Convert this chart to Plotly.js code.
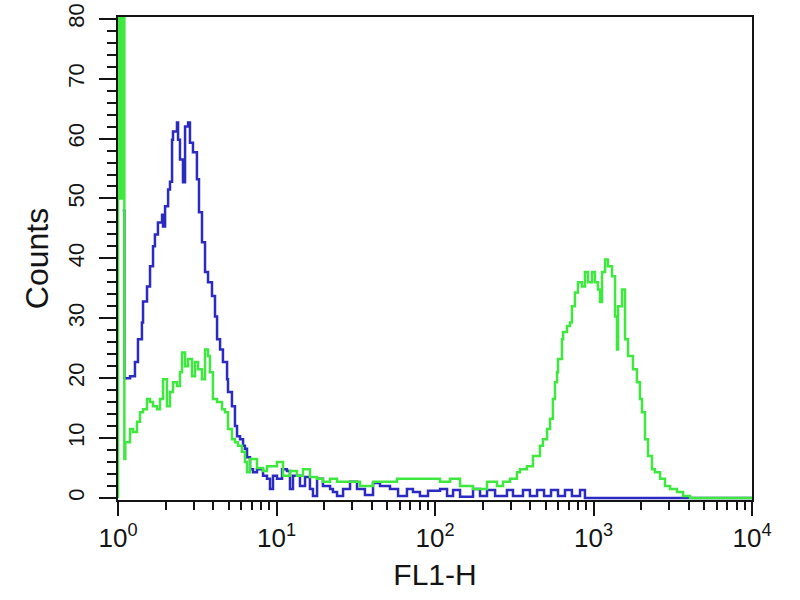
<!DOCTYPE html>
<html>
<head>
<meta charset="utf-8">
<script src="https://cdn.plot.ly/plotly-3.0.1.min.js"></script>
<style>html,body{margin:0;padding:0;background:#fff;}#chart{width:800px;height:600px;}</style>
</head>
<body>
<div id="chart"></div>
<script>
// FL1-H positions (in decades, log10 of FL1-H) and counts
const blueDecades = [0.030,0.040,0.076,0.107,0.126,0.151,0.158,0.183,0.202,0.221,0.233,0.252,0.278,0.284,0.297,0.316,0.328,0.341,0.347,0.372,0.379,0.391,0.410,0.423,0.442,0.454,0.473,0.498,0.511,0.530,0.549,0.568,0.593,0.612,0.625,0.644,0.662,0.688,0.694,0.719,0.738,0.751,0.770,0.789,0.801,0.814,0.833,0.852,0.877,0.915,0.940,0.959,0.978,1.003,1.035,1.066,1.085,1.104,1.148,1.180,1.211,1.230,1.256,1.293,1.338,1.356,1.382,1.420,1.464,1.508,1.558,1.609,1.653,1.716,1.767,1.823,1.861,1.905,1.956,2.032,2.076,2.114,2.158,2.240,2.284,2.328,2.379,2.454,2.492,2.555,2.599,2.644,2.688,2.732,2.776,2.820,2.864,2.915,2.946,4.000];
const blueCounts  = [48,20,20.3,22.7,26.5,29.3,32.8,35.3,38.7,42,44,46,47.3,45.3,48.7,51.5,52.8,59.8,61.2,62.7,59.8,56.5,52.7,62,62.7,59.3,57.7,53.2,47.7,42.7,37.7,36,33.7,30.3,26.5,24.8,22.7,19.8,17.7,15.3,12,10.3,9.8,8.7,8.2,6.8,4.8,4.3,4.8,3.7,3.2,1.5,3.7,3.2,4.8,4.5,1.5,3.7,2,3.5,1.5,0.3,3.2,2,1.5,1,0.3,1.5,2.7,1.5,0.5,2.5,2,1.5,0.3,1.5,1,0.3,1.2,1.5,0.3,1.3,0.2,1.5,0.3,1.3,0.3,1.3,0.3,1.3,0.3,1.3,0.3,1.3,0.3,1.3,0.3,1.3,0,0];

const greenDecades = [0.000,0.000,0.012,0.024,0.040,0.046,0.076,0.095,0.120,0.139,0.158,0.183,0.202,0.221,0.246,0.265,0.284,0.309,0.328,0.347,0.372,0.391,0.404,0.423,0.442,0.467,0.486,0.505,0.530,0.549,0.568,0.580,0.599,0.625,0.656,0.675,0.694,0.719,0.738,0.757,0.782,0.801,0.814,0.833,0.877,0.915,0.940,0.978,1.003,1.041,1.085,1.129,1.167,1.211,1.256,1.293,1.338,1.382,1.445,1.527,1.609,1.672,1.760,1.861,1.950,2.032,2.095,2.158,2.240,2.328,2.391,2.429,2.473,2.517,2.536,2.580,2.618,2.662,2.681,2.707,2.726,2.744,2.757,2.770,2.776,2.801,2.808,2.833,2.852,2.864,2.883,2.902,2.927,2.946,2.965,2.991,3.009,3.028,3.041,3.054,3.073,3.091,3.117,3.136,3.148,3.155,3.180,3.199,3.218,3.249,3.274,3.293,3.306,3.325,3.344,3.369,3.388,3.420,3.451,3.483,3.527,3.565,3.609,4.000];
const greenCounts  = [0,85,50,85,6.5,9.3,11.5,11,12.7,14.3,14.8,16.5,16,15.3,14.8,16.5,19.8,15.3,17.7,19.3,18.7,21,24.3,22,23.2,20.3,22.7,21.5,19.8,24.8,23.7,21,16.5,16,14.8,14.3,11.5,9.8,9.3,8.7,7.7,6,4.3,6.5,5,4.5,5.3,5.3,6,3.7,4.5,3.7,4.8,3.5,3.2,2.7,3.2,2.7,2.7,2,2.7,2.7,3.2,3.2,3.2,2.7,3.2,2,1.5,2.7,2,2.7,3.2,4.3,4.8,5.3,7,8.7,9.8,11.5,13.2,16.5,19.3,21,23.2,26.5,27.7,28.7,29.3,32,34.3,36,35.3,37.7,36,37.7,36,34.8,32.7,37.7,39.8,38.7,37,30.3,24.8,32,34.8,26.5,23.7,21.5,19.3,16.5,14.3,9.8,7,4.8,4.3,3.2,2,1.5,1,0.3,0,0];

const xTickVals = [1, 10, 100, 1000, 10000];
const xTickText = ['10<sup>0</sup>', '10<sup>1</sup>', '10<sup>2</sup>', '10<sup>3</sup>', '10<sup>4</sup>'];
const yTickVals = [0, 10, 20, 30, 40, 50, 60, 70, 80];
const yTickText = ['0', '10', '20', '30', '40', '50', '60', '70', '80'];

const toFL = d => Math.pow(10, d);
const xMinor = [];
for (let dec = 0; dec < 4; dec++) for (let k = 2; k <= 9; k++) xMinor.push(k * Math.pow(10, dec));

const FONT = 'Liberation Sans, Arial, sans-serif';
const INK = '#141414';

const traces = [
  { x: blueDecades.map(toFL), y: blueCounts, type: 'scatter', mode: 'lines',
    line: { shape: 'hv', color: '#2b2bc2', width: 2.5 }, hoverinfo: 'skip' },
  { x: greenDecades.map(toFL), y: greenCounts, type: 'scatter', mode: 'lines',
    line: { shape: 'hv', color: '#3ee83e', width: 2.5 }, hoverinfo: 'skip' }
];

const layout = {
  width: 800, height: 600,
  margin: { l: 118, r: 48, t: 17, b: 100 },
  paper_bgcolor: '#ffffff', plot_bgcolor: '#ffffff',
  showlegend: false,
  font: { family: FONT, color: INK },
  xaxis: {
    type: 'log', range: [0, 4], showgrid: false, zeroline: false,
    showline: true, linecolor: INK, linewidth: 2, mirror: true,
    ticks: 'outside', ticklen: 14, tickwidth: 2, tickcolor: INK,
    tickmode: 'array', tickvals: xTickVals, ticktext: xTickText,
    tickfont: { family: FONT, size: 26, color: INK },
    minor: { tickmode: 'array', tickvals: xMinor, ticks: 'outside', ticklen: 8, tickwidth: 2, tickcolor: INK, showgrid: false },
    title: { text: 'FL1-H', font: { family: FONT, size: 30, color: INK }, standoff: 12 }
  },
  yaxis: {
    range: [-0.35, 80.3], showgrid: false, zeroline: false,
    showline: true, linecolor: INK, linewidth: 2, mirror: true,
    ticks: 'outside', ticklen: 17, tickwidth: 2, tickcolor: INK,
    tickmode: 'array', tickvals: yTickVals, ticktext: yTickText,
    tickangle: -90, ticklabelstandoff: 6,
    tickfont: { family: FONT, size: 22, color: INK },
    minor: { dtick: 2, tick0: 0, ticks: 'outside', ticklen: 9, tickwidth: 2, tickcolor: INK, showgrid: false },
    title: { text: 'Counts', font: { family: FONT, size: 32, color: INK }, standoff: 6 }
  }
};

Plotly.newPlot('chart', traces, layout, { staticPlot: true, displayModeBar: false });
</script>
</body>
</html>
